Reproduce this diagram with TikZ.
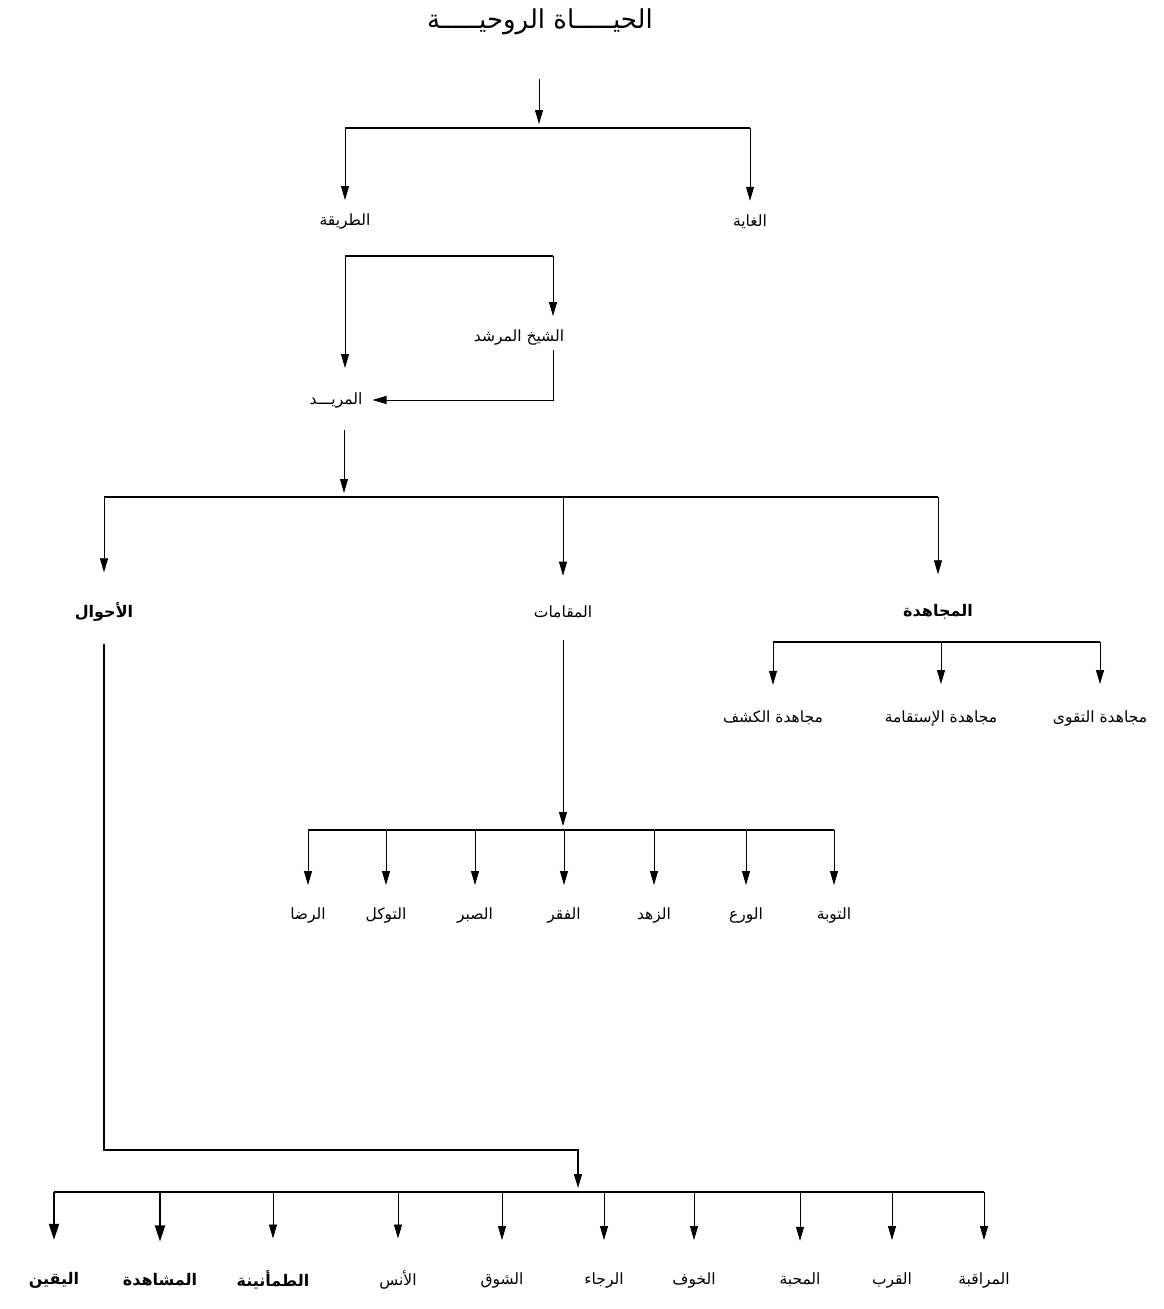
\documentclass[tikz,border=0pt]{standalone}
\usepackage{fontspec}
\newfontfamily\arabicfont[Script=Arabic]{DejaVu Sans}
\TeXXeTstate=1
\usetikzlibrary{arrows.meta,positioning,calc}
\newcommand{\artxt}[1]{\beginR #1\endR}

\begin{document}
\begin{tikzpicture}[x=1pt, y=-1pt,
  lbl/.style ={font=\arabicfont\fontsize{15.5}{18}\selectfont, inner sep=2pt},
  head/.style={font=\arabicfont\bfseries\fontsize{16}{19}\selectfont, inner sep=2pt},
  ttl/.style ={font=\arabicfont\fontsize{26}{30}\selectfont, inner sep=2pt},
  fl/.style  ={-{Triangle[length=14pt,width=8pt]}, line width=0.8pt, shorten >=#1},
  fl/.default=2pt,
  thk/.style ={line width=1.8pt, -{Triangle[length=16pt,width=10pt]}},
  bus/.style ={line width=1.8pt}]

\fill[white] (0,0) rectangle (1163,1309);
\useasboundingbox (0,0) rectangle (1163,1309);

% root and first split
\node[ttl] (root) at (540,22) {\artxt{الحيـــــاة الروحيـــــة}};
\node[lbl] (tariqa) at (345,222) {\artxt{الطريقة}};
\node[lbl] (ghaya)  at (750,222) {\artxt{الغاية}};
\coordinate (b0) at (539,128);
\draw[fl=4pt, shorten <=42pt] (root.south -| b0) -- (b0);
\draw[bus] (tariqa |- b0) -- (ghaya |- b0);
\foreach \n in {tariqa,ghaya}
  \draw[fl=12pt] (\n |- b0) -- (\n.north);

% sheikh and disciple
\node[lbl] (shaykh) at (519,337) {\artxt{الشيخ المرشد}};
\node[lbl] (murid)  at (336,400) {\artxt{المريـــد}};
\coordinate (tl) at (345,256);
\coordinate (tr) at (553,256);
\draw[line width=1.2pt] (tl) -- (tr);
\draw[fl=22pt] (tl) -- (tl |- murid.north);
\draw[fl=11pt] (tr) -- (tr |- shaykh.north);
\draw[fl=8pt, shorten <=3pt] (shaykh.south -| tr) -- (tr |- murid.east) -- (murid.east);

% second split
\node[head] (ahwal)    at (104,612) {\artxt{الأحوال}};
\node[lbl]  (maqamat)  at (563,612) {\artxt{المقامات}};
\node[head] (mujahada) at (938,612) {\artxt{المجاهدة}};
\coordinate (b1) at (344,497);
\draw[fl=4pt, shorten <=20pt] (murid.south -| b1) -- (b1);
\draw[bus, line width=2.4pt] (ahwal |- b1) -- (mujahada |- b1);
\foreach \n in {ahwal,maqamat,mujahada}
  \draw[fl=28pt] (\n |- b1) -- (\n.north);

% mujahada
\coordinate (b2) at (941,642);
\foreach \x/\t [count=\i] in {773/مجاهدة الكشف, 941/مجاهدة الإستقامة, 1100/مجاهدة التقوى}
  \node[lbl] (mj\i) at (\x,718) {\artxt{\t}};
\draw[bus, line width=1.5pt] (mj1 |- b2) -- (mj3 |- b2);
\foreach \i in {1,2,3}
  \draw[fl=24pt] (mj\i |- b2) -- (mj\i.north);

% maqamat
\coordinate (b3) at (563,830);
\draw[fl=4pt, shorten <=20pt] (maqamat.south) -- (b3);
\foreach \x/\t [count=\i] in {308/الرضا, 386/التوكل, 475/الصبر, 564/الفقر,
                              654/الزهد, 746/الورع, 834/التوبة}
  \node[lbl] (mq\i) at (\x,915) {\artxt{\t}};
\draw[line width=1.2pt] (mq1 |- b3) -- (mq7 |- b3);
\foreach \i in {1,...,7}
  \draw[fl=20pt] (mq\i |- b3) -- (mq\i.north);

% ahwal
\coordinate (hb) at (578,1150);
\coordinate (b4) at (578,1192);
\draw[fl=4pt, shorten <=20pt, line width=1.4pt] (ahwal.south) -- (ahwal |- hb) -- (hb) -- (b4);
\foreach \x/\t/\s [count=\i] in {54/اليقين/head, 160/المشاهدة/head, 273/الطمأنينة/head,
                                 398/الأنس/lbl, 502/الشوق/lbl, 604/الرجاء/lbl,
                                 694/الخوف/lbl, 800/المحبة/lbl, 892/القرب/lbl,
                                 984/المراقبة/lbl}
  \node[\s] (ah\i) at (\x,1280) {\artxt{\t}};
\draw[bus, line width=2.4pt] (ah1 |- b4) -- (ah10 |- b4);
\foreach \i in {3,...,10}
  \draw[fl=30pt] (ah\i |- b4) -- (ah\i.north);
\foreach \i in {1,2}
  \draw[thk, shorten >=30pt] (ah\i |- b4) -- (ah\i.north);
\end{tikzpicture}
\end{document}
